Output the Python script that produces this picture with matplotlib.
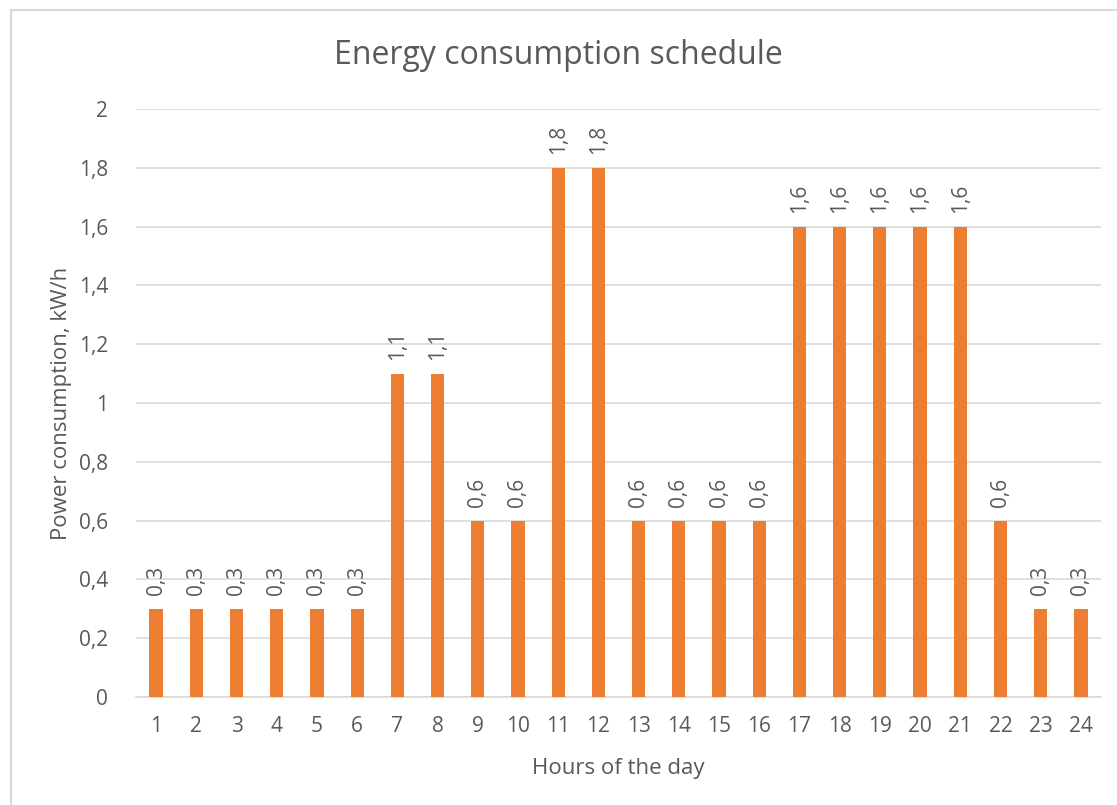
import matplotlib

matplotlib.use("Agg")
import matplotlib.pyplot as plt
from matplotlib.lines import Line2D

hours = list(range(1, 25))
power = [0.3, 0.3, 0.3, 0.3, 0.3, 0.3, 1.1, 1.1, 0.6, 0.6, 1.8, 1.8,
         0.6, 0.6, 0.6, 0.6, 1.6, 1.6, 1.6, 1.6, 1.6, 0.6, 0.3, 0.3]
y_ticks = [0, 0.2, 0.4, 0.6, 0.8, 1, 1.2, 1.4, 1.6, 1.8, 2]

BAR = "#ED7D31"
TEXT = "#595959"
GRID = "#D9D9D9"

plt.rcParams["font.family"] = ["Open Sans", "DejaVu Sans"]


def comma(v):
    return f"{v:g}".replace(".", ",")


fig = plt.figure(figsize=(11.17, 8.05), dpi=100)
ax = fig.add_axes([136 / 1117, 108 / 805, 965 / 1117, 588 / 805])

ax.bar(hours, power, width=0.33, color=BAR, zorder=3)
for h, p in zip(hours, power):
    ax.annotate(comma(p), (h, p), xytext=(0, 10), textcoords="offset points",
                rotation=90, ha="center", va="bottom", fontsize=15, color=TEXT)

ax.set_xlim(0.5, 24.5)
ax.set_ylim(0, 2)
ax.set_xticks(hours)
ax.set_xticklabels([str(h) for h in hours])
ax.set_yticks(y_ticks)
ax.set_yticklabels([comma(v) for v in y_ticks])
ax.tick_params(axis="both", length=0, labelsize=15, colors=TEXT)
ax.tick_params(axis="x", pad=14)
ax.tick_params(axis="y", pad=20)
ax.grid(axis="y", color=GRID, linewidth=1.2, zorder=0)
for side in ["top", "right", "left"]:
    ax.spines[side].set_visible(False)
ax.spines["bottom"].set_color(GRID)
ax.spines["bottom"].set_linewidth(1.2)

ax.set_xlabel("Hours of the day", fontsize=16, color=TEXT)
ax.set_ylabel("Power consumption, kW/h", fontsize=16, color=TEXT)
ax.xaxis.set_label_coords(0.5, -(768 - 697) / 588, transform=ax.transAxes)
ax.yaxis.set_label_coords(-(136 - 62) / 965, 0.5, transform=ax.transAxes)
ax.xaxis.label.set_va("center")
ax.yaxis.label.set_va("center")
fig.text(0.5, 1 - 55 / 805, "Energy consumption schedule", ha="center",
         va="center", fontsize=23, color=TEXT)

# chart frame (only left and top edges fall inside the picture)
x0, y0 = 10.5 / 1117, 1 - 10.5 / 805
fig.add_artist(Line2D([x0, x0], [0, y0], transform=fig.transFigure,
                      color=GRID, linewidth=1.5))
fig.add_artist(Line2D([x0, 1], [y0, y0], transform=fig.transFigure,
                      color=GRID, linewidth=1.5))

fig.savefig("out.png", dpi=100)
